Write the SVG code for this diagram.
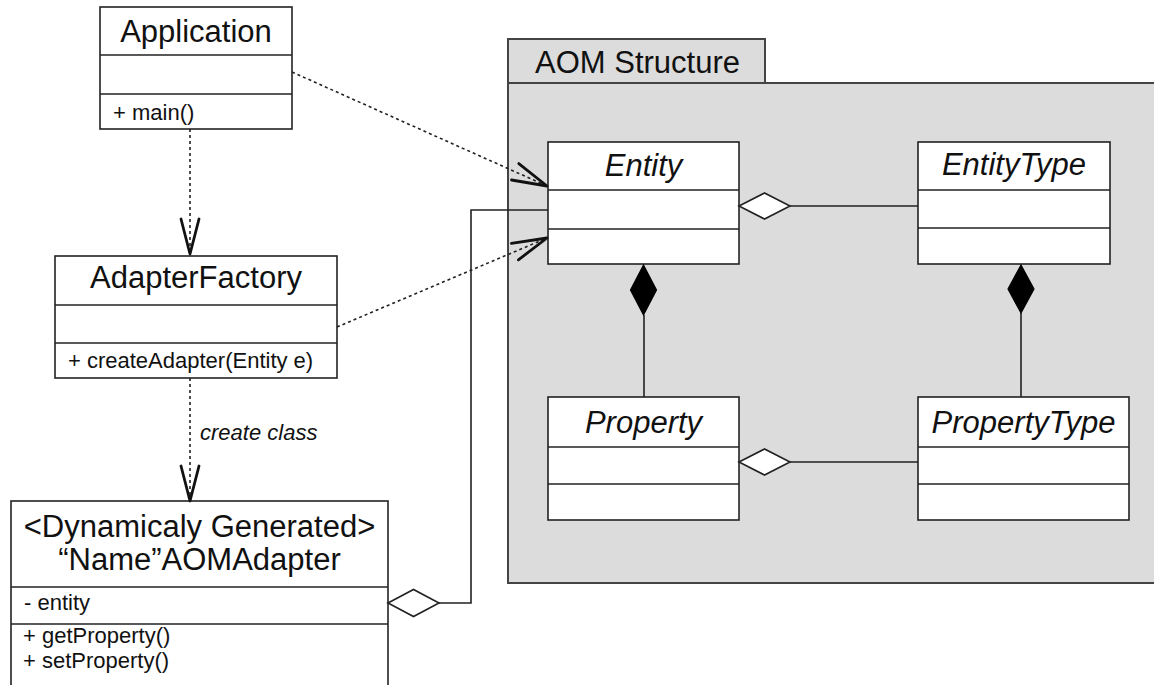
<svg xmlns="http://www.w3.org/2000/svg" width="1154" height="685" viewBox="0 0 1154 685">
  <style>
    .box { fill: #ffffff; stroke: #222222; stroke-width: 1.6; }
    .div { stroke: #222222; stroke-width: 1.6; }
    .title { font-family: "Liberation Sans", Arial, sans-serif; font-size: 31px; fill: #111111; text-anchor: middle; }
    .ital { font-style: italic; }
    .member { font-family: "Liberation Sans", Arial, sans-serif; font-size: 22px; fill: #111111; }
    .dep { fill: none; stroke: #222222; stroke-width: 1.6; stroke-dasharray: 3 3; }
    .head { fill: none; stroke: #111111; stroke-width: 2.8; stroke-linecap: round; stroke-linejoin: round; }
    .assoc { fill: none; stroke: #222222; stroke-width: 1.6; }
    .hollow { fill: #ffffff; stroke: #222222; stroke-width: 1.6; }
    .filled { fill: #000000; stroke: #000000; stroke-width: 1.2; }
    .pkg { fill: #dcdcdc; stroke: #444444; stroke-width: 2; }
  </style>

  <!-- package -->
  <g id="aom-structure">
    <rect class="pkg" x="508" y="39" width="257" height="44"/>
    <rect class="pkg" x="508" y="83" width="660" height="500"/>
    <text class="title" x="535" y="73" style="text-anchor:start">AOM Structure</text>
  </g>

  <g id="application">
    <rect class="box" x="100" y="7" width="192" height="122"/>
    <line class="div" x1="100" y1="55" x2="292" y2="55"/>
    <line class="div" x1="100" y1="94" x2="292" y2="94"/>
    <text class="title" x="196" y="42">Application</text>
    <text class="member" x="113" y="120">+ main()</text>
  </g>

  <g id="adapter-factory">
    <rect class="box" x="55" y="256" width="282" height="122"/>
    <line class="div" x1="55" y1="305" x2="337" y2="305"/>
    <line class="div" x1="55" y1="343" x2="337" y2="343"/>
    <text class="title" x="196" y="288">AdapterFactory</text>
    <text class="member" x="68" y="368">+ createAdapter(Entity e)</text>
  </g>

  <g id="aom-adapter">
    <rect class="box" x="11" y="501" width="377" height="210"/>
    <line class="div" x1="11" y1="587" x2="388" y2="587"/>
    <line class="div" x1="11" y1="624" x2="388" y2="624"/>
    <text class="title" x="199.5" y="537">&lt;Dynamicaly Generated&gt;</text>
    <text class="title" x="199.5" y="570">“Name”AOMAdapter</text>
    <text class="member" x="24" y="610">- entity</text>
    <text class="member" x="23" y="643">+ getProperty()</text>
    <text class="member" x="23" y="668">+ setProperty()</text>
  </g>

  <g id="entity">
    <rect class="box" x="548" y="142" width="191" height="122"/>
    <line class="div" x1="548" y1="190" x2="739" y2="190"/>
    <line class="div" x1="548" y1="229" x2="739" y2="229"/>
    <text class="title ital" x="643.5" y="176">Entity</text>
  </g>

  <g id="entity-type">
    <rect class="box" x="918" y="142" width="192" height="122"/>
    <line class="div" x1="918" y1="190" x2="1110" y2="190"/>
    <line class="div" x1="918" y1="228" x2="1110" y2="228"/>
    <text class="title ital" x="1014" y="175">EntityType</text>
  </g>

  <g id="property">
    <rect class="box" x="548" y="397" width="191" height="123"/>
    <line class="div" x1="548" y1="447" x2="739" y2="447"/>
    <line class="div" x1="548" y1="484" x2="739" y2="484"/>
    <text class="title ital" x="643.5" y="433">Property</text>
  </g>

  <g id="property-type">
    <rect class="box" x="918" y="397" width="211" height="123"/>
    <line class="div" x1="918" y1="447" x2="1129" y2="447"/>
    <line class="div" x1="918" y1="484" x2="1129" y2="484"/>
    <text class="title ital" x="1023.5" y="433">PropertyType</text>
  </g>

  <g id="connectors">
    <!-- dependencies -->
    <line class="dep" x1="190" y1="129" x2="190" y2="253"/>
    <polyline class="head" points="181,219 190,254 199,219"/>

    <line class="dep" x1="190" y1="378" x2="190" y2="500"/>
    <polyline class="head" points="181,466 190,501 199,466"/>
    <text class="member ital" x="200" y="440">create class</text>

    <line class="dep" x1="292" y1="72" x2="547" y2="186"/>
    <polyline class="head" points="518.8,163.6 547,186 511.5,180"/>

    <line class="dep" x1="337" y1="327" x2="547" y2="238"/>
    <polyline class="head" points="511.4,243.4 547,238 518.4,259.8"/>

    <!-- adapter aggregates entity -->
    <polyline class="assoc" points="439,603 471,603 471,210 548,210"/>
    <polygon class="hollow" points="388,603 413.5,589.5 439,603 413.5,616.5"/>

    <!-- entity / entity type -->
    <line class="assoc" x1="790" y1="206" x2="918" y2="206"/>
    <polygon class="hollow" points="739,206 764.5,193 790,206 764.5,219"/>

    <!-- property / property type -->
    <line class="assoc" x1="790" y1="462" x2="918" y2="462"/>
    <polygon class="hollow" points="739,462 764.5,449 790,462 764.5,475"/>

    <!-- compositions -->
    <line class="assoc" x1="644" y1="315" x2="644" y2="397"/>
    <polygon class="filled" points="643.5,265 656.5,290 643.5,315 630.5,290"/>

    <line class="assoc" x1="1021" y1="313" x2="1021" y2="397"/>
    <polygon class="filled" points="1021,265 1034,289 1021,313 1008,289"/>
  </g>
</svg>
